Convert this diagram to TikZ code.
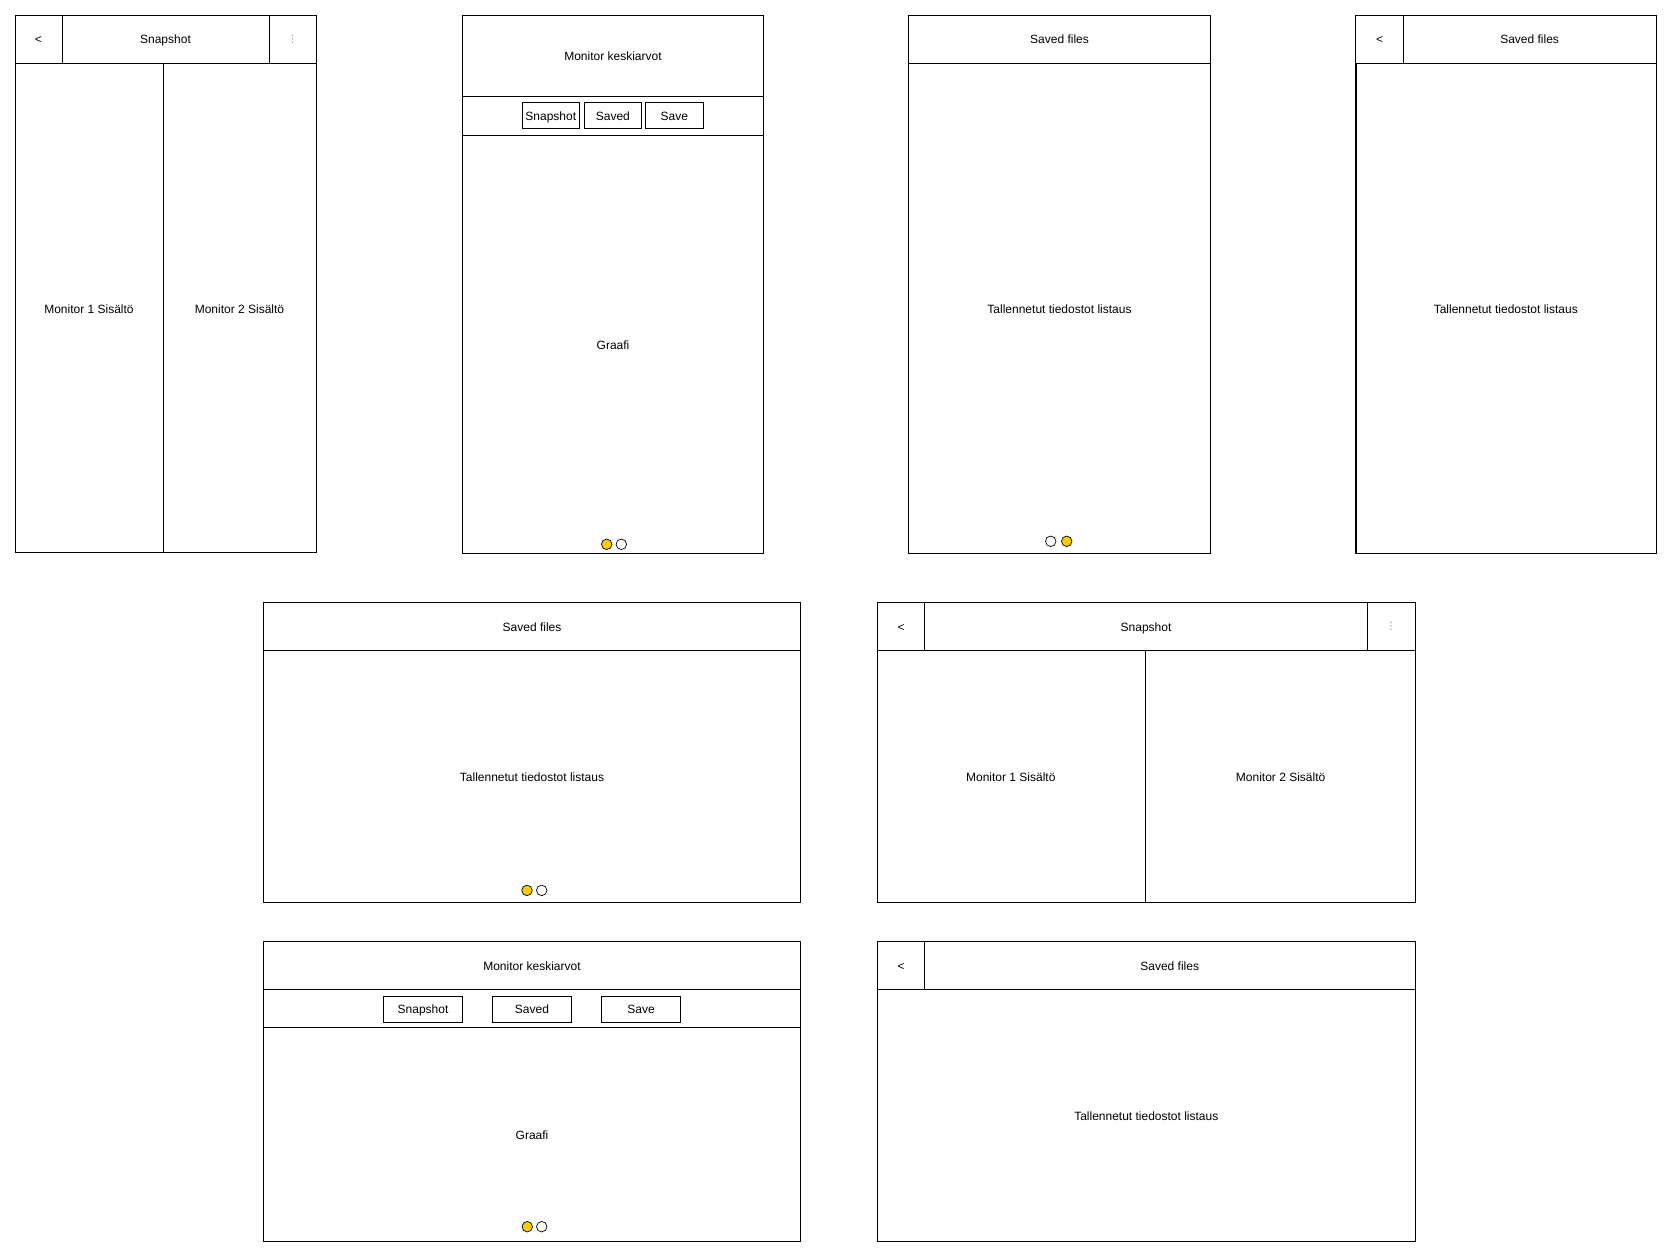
\documentclass[tikz,border=0pt]{standalone}
\usepackage{fontspec}
\setmainfont{Liberation Sans}
\newfontfamily\symfont{DejaVu Sans}
\definecolor{dotyellow}{RGB}{255,204,0}
\tikzset{
    lbl/.style={font=\fontsize{12}{14}\selectfont,text height=10pt,text depth=0pt},
    btn/.style={draw,font=\fontsize{12}{14}\selectfont,text height=8.5pt,text depth=0pt,minimum height=26pt,inner sep=0pt},
    pagedot/.style={circle,draw,line width=0.7pt,minimum size=10.5pt,inner sep=0pt},
    kebab/.style={font=\symfont\fontsize{10}{12}\selectfont,text=gray}
}
\begin{document}
\begin{tikzpicture}[x=1pt,y=-1pt,line width=0.9pt]
        \useasboundingbox(0,0)rectangle(1672,1257);
        % snapshot, portrait
        \draw(15,15)rectangle(316,552);
        \draw(15,63)--(316,63);
        \draw(62,15)--(62,63);
        \draw(269,15)--(269,63);
        \draw(163,63)--(163,552);
        \node[lbl](snapBackA)at(38.5,39){<};
        \node[lbl](snapTitleA)at(165.5,39){Snapshot};
        \node[kebab](snapMenuA)at(292.5,39){⋮};
        \node[lbl](snapMonOneA)at(89,308){Monitor 1 Sisältö};
        \node[lbl](snapMonTwoA)at(239.5,308){Monitor 2 Sisältö};
        % monitor averages, portrait
        \draw(462.5,15)rectangle(763.5,553);
        \draw(462.5,96)--(763.5,96);
        \draw(462.5,135.5)--(763.5,135.5);
        \node[lbl](avgTitleA)at(613,56){Monitor keskiarvot};
        \node[btn,minimum width=57pt](avgSnapA)at(550.8,115.8){Snapshot};
        \node[btn,minimum width=57.7pt](avgSavedA)at(612.9,115.8){Saved};
        \node[btn,minimum width=58pt](avgSaveA)at(674.3,115.8){Save};
        \node[lbl](avgGraphA)at(613,344){Graafi};
        \node[pagedot,fill=dotyellow](avgDotOneA)at(606.7,544.3){};
        \node[pagedot,fill=white](avgDotTwoA)at(621.3,544.3){};
        % saved files, portrait
        \draw(908.5,15)rectangle(1210.3,553);
        \draw(908.5,63)--(1210.3,63);
        \node[lbl](savedTitleA)at(1059.5,39){Saved files};
        \node[lbl](savedListA)at(1059.5,308){Tallennetut tiedostot listaus};
        \node[pagedot,fill=white](savedDotOneA)at(1050.7,541.3){};
        \node[pagedot,fill=dotyellow](savedDotTwoA)at(1066.7,541.3){};
        % saved files with back, portrait
        \draw(1355.7,15)rectangle(1656,553);
        \draw(1355.7,63)--(1656,63);
        \draw(1403.3,15)--(1403.3,63);
        \draw[line width=1.6pt](1356.1,63)--(1356.1,553);
        \node[lbl](savedBackB)at(1379.5,39){<};
        \node[lbl](savedTitleB)at(1529.6,39){Saved files};
        \node[lbl](savedListB)at(1505.8,308){Tallennetut tiedostot listaus};
        % saved files, landscape
        \draw(263.4,602.5)rectangle(800.8,902);
        \draw(263.4,650.4)--(800.8,650.4);
        \node[lbl](savedTitleC)at(532,626.5){Saved files};
        \node[lbl](savedListC)at(532,776){Tallennetut tiedostot listaus};
        \node[pagedot,fill=dotyellow](savedDotOneC)at(527,890.4){};
        \node[pagedot,fill=white](savedDotTwoC)at(541.7,890.4){};
        % snapshot, landscape
        \draw(877.6,602.5)rectangle(1415,902);
        \draw(877.6,650.4)--(1415,650.4);
        \draw(924.5,602.5)--(924.5,650.4);
        \draw(1367.5,602.5)--(1367.5,650.4);
        \draw(1145.5,650.4)--(1145.5,902);
        \node[lbl](snapBackB)at(901,626.5){<};
        \node[lbl](snapTitleB)at(1146,626.5){Snapshot};
        \node[kebab](snapMenuB)at(1391.2,626.5){⋮};
        \node[lbl](snapMonOneB)at(1010.8,776){Monitor 1 Sisältö};
        \node[lbl](snapMonTwoB)at(1280.6,776){Monitor 2 Sisältö};
        % monitor averages, landscape
        \draw(263.4,941.5)rectangle(800.8,1241.3);
        \draw(263.4,989.8)--(800.8,989.8);
        \draw(263.4,1027.5)--(800.8,1027.5);
        \node[lbl](avgTitleB)at(532,965.6){Monitor keskiarvot};
        \node[btn,minimum width=79pt](avgSnapB)at(423,1009){Snapshot};
        \node[btn,minimum width=79pt](avgSavedB)at(532,1009){Saved};
        \node[btn,minimum width=79pt](avgSaveB)at(641,1009){Save};
        \node[lbl](avgGraphB)at(532,1134.5){Graafi};
        \node[pagedot,fill=dotyellow](avgDotOneB)at(527.3,1226.7){};
        \node[pagedot,fill=white](avgDotTwoB)at(541.7,1226.7){};
        % saved files with back, landscape
        \draw(877.6,941.5)rectangle(1415,1241.3);
        \draw(877.6,989.8)--(1415,989.8);
        \draw(924.5,941.5)--(924.5,989.8);
        \node[lbl](savedBackD)at(901,965.6){<};
        \node[lbl](savedTitleD)at(1169.7,965.6){Saved files};
        \node[lbl](savedListD)at(1146.3,1115.5){Tallennetut tiedostot listaus};
    \end{tikzpicture}
\end{document}
